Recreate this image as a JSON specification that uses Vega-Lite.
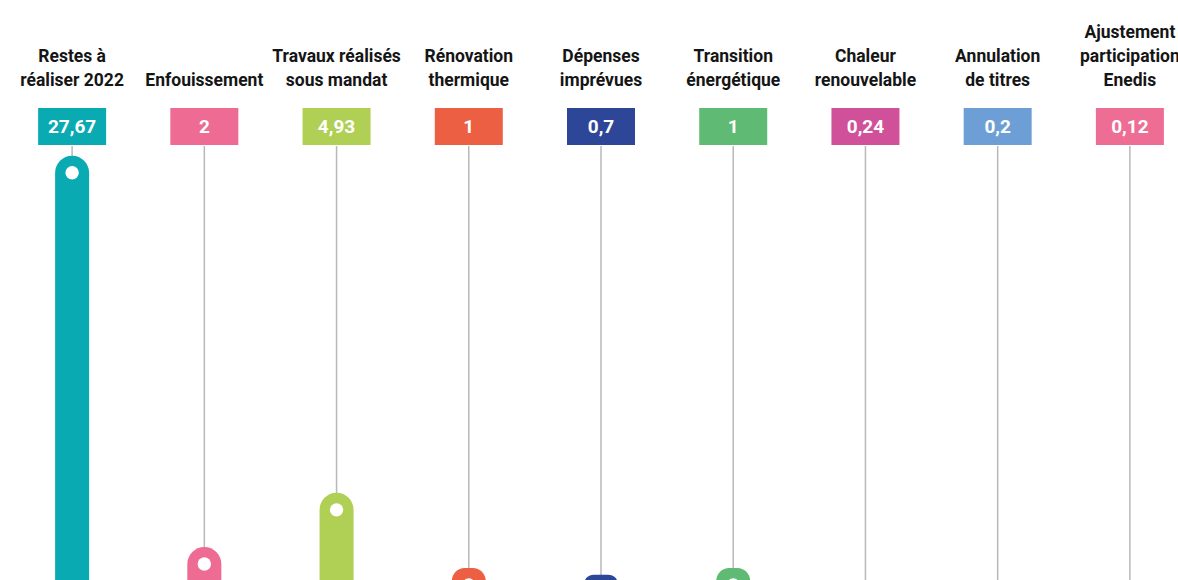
{
  "$schema": "https://vega.github.io/schema/vega-lite/v6.json",
  "background": "white",
  "padding": {"left": 6, "top": 23, "right": 0, "bottom": 0},
  "spacing": 0,
  "config": {
    "view": {"stroke": null},
    "font": "Roboto",
    "locale": {"number": {"decimal": ",", "thousands": " ", "grouping": [3], "currency": ["", " €"]}}
  },
  "data": {
    "values": [
      {"poste": "Restes à\nréaliser 2022", "montant": 27.67},
      {"poste": "Enfouissement", "montant": 2},
      {"poste": "Travaux réalisés\nsous mandat", "montant": 4.93},
      {"poste": "Rénovation\nthermique", "montant": 1},
      {"poste": "Dépenses\nimprévues", "montant": 0.7},
      {"poste": "Transition\nénergétique", "montant": 1},
      {"poste": "Chaleur\nrenouvelable", "montant": 0.24},
      {"poste": "Annulation\nde titres", "montant": 0.2},
      {"poste": "Ajustement\nparticipation\nEnedis", "montant": 0.12}
    ]
  },
  "vconcat": [
    {
      "width": 1190,
      "height": 37,
      "encoding": {
        "x": {
          "field": "poste", "type": "nominal", "sort": null,
          "scale": {"paddingInner": 0, "paddingOuter": 0},
          "axis": {
            "orient": "top", "title": null, "domain": false, "ticks": false,
            "labelAngle": 0,
            "labelExpr": "length(split(datum.label, '\\n')) == 3 ? split(datum.label, '\\n') : length(split(datum.label, '\\n')) == 2 ? ['\u200b', split(datum.label, '\\n')[0], split(datum.label, '\\n')[1]] : ['\u200b', '\u200b', datum.label]",
            "labelFont": "Roboto",
            "labelFontWeight": "bold", "labelFontSize": 17.5, "labelLineHeight": 24,
            "labelColor": "#151515", "labelPadding": 67, "labelOverlap": false,
            "labelBound": false, "labelLimit": 0, "labelBaseline": "bottom"
          }
        },
        "color": {
          "field": "poste", "type": "nominal", "legend": null,
          "scale": {
            "domain": ["Restes à\nréaliser 2022", "Enfouissement", "Travaux réalisés\nsous mandat", "Rénovation\nthermique", "Dépenses\nimprévues", "Transition\nénergétique", "Chaleur\nrenouvelable", "Annulation\nde titres", "Ajustement\nparticipation\nEnedis"],
            "range": ["#09aab2", "#ee6b93", "#afcf55", "#ec5f43", "#2e4697", "#5fba74", "#d0519a", "#6d9fd6", "#ee6d94"]
          }
        }
      },
      "layer": [
        {"mark": {"type": "bar", "width": 68}},
        {
          "mark": {"type": "text", "fontSize": 19, "fontWeight": "bold", "font": "Roboto", "baseline": "middle", "align": "center"},
          "encoding": {
            "text": {"field": "montant", "type": "quantitative", "format": ".4~g"},
            "color": {"value": "white"}
          }
        }
      ]
    },
    {
      "width": 1190,
      "height": 436,
      "encoding": {
        "x": {
          "field": "poste", "type": "nominal", "sort": null,
          "scale": {"paddingInner": 0, "paddingOuter": 0},
          "axis": null
        }
      },
      "layer": [
        {"mark": {"type": "rule", "color": "#b8b8b8", "strokeWidth": 1.5}, "encoding": {}},
        {
          "mark": {"type": "bar", "width": 34, "cornerRadiusTopLeft": 17, "cornerRadiusTopRight": 17, "clip": true},
          "encoding": {
            "y": {
              "field": "montant", "type": "quantitative", "axis": null,
              "scale": {"type": "pow", "exponent": 0.85, "domain": [0.4016, 28.4], "zero": false, "nice": false}
            },
            "y2": {"datum": 0},
            "color": {
              "field": "poste", "type": "nominal", "legend": null,
              "scale": {
                "domain": ["Restes à\nréaliser 2022", "Enfouissement", "Travaux réalisés\nsous mandat", "Rénovation\nthermique", "Dépenses\nimprévues", "Transition\nénergétique", "Chaleur\nrenouvelable", "Annulation\nde titres", "Ajustement\nparticipation\nEnedis"],
                "range": ["#09aab2", "#ee6b93", "#afcf55", "#ec5f43", "#2e4697", "#5fba74", "#d0519a", "#6d9fd6", "#ee6d94"]
              }
            }
          }
        },
        {
          "mark": {"type": "point", "filled": true, "color": "white", "opacity": 1, "size": 180, "yOffset": 17, "clip": true, "strokeWidth": 0},
          "encoding": {
            "y": {"field": "montant", "type": "quantitative"}
          }
        }
      ]
    }
  ]
}
